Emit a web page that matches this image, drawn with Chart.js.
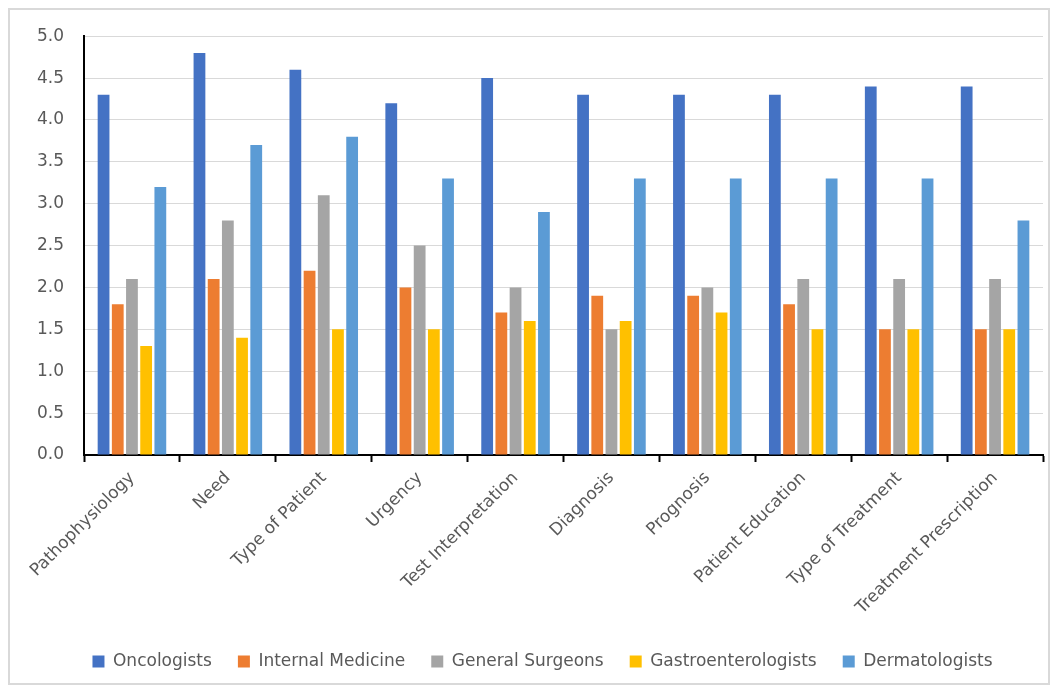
<!DOCTYPE html>
<html lang="en">
<head>
    <meta charset="UTF-8">
    <title>Specialty ratings</title>
    <script src="https://cdn.jsdelivr.net/npm/chart.js"></script>
    <style>
        body {
            margin: 0;
            padding: 0;
            background-color: #fff;
        }

        #frame {
            position: absolute;
            left: 8px;
            top: 8px;
            width: 1038px;
            height: 673px;
            border: 2px solid #d9d9d9;
        }

        #chart-container {
            position: absolute;
            left: 0;
            top: -4px;
            width: 1038px;
            height: 677px;
        }
    </style>
</head>
<body>
    <div id="frame">
        <div id="chart-container">
            <canvas id="ratingChart"></canvas>
        </div>
    </div>

    <script>
        const categories = ['Pathophysiology', 'Need', 'Type of Patient', 'Urgency', 'Test Interpretation',
            'Diagnosis', 'Prognosis', 'Patient Education', 'Type of Treatment', 'Treatment Prescription'];

        const oncologists = [4.3, 4.8, 4.6, 4.2, 4.5, 4.3, 4.3, 4.3, 4.4, 4.4];
        const internalMedicine = [1.8, 2.1, 2.2, 2.0, 1.7, 1.9, 1.9, 1.8, 1.5, 1.5];
        const generalSurgeons = [2.1, 2.8, 3.1, 2.5, 2.0, 1.5, 2.0, 2.1, 2.1, 2.1];
        const gastroenterologists = [1.3, 1.4, 1.5, 1.5, 1.6, 1.6, 1.7, 1.5, 1.5, 1.5];
        const dermatologists = [3.2, 3.7, 3.8, 3.3, 2.9, 3.3, 3.3, 3.3, 3.3, 2.8];

        const font = 'DejaVu Sans';
        const textColor = '#595959';

        function series(label, data, color) {
            return {
                label: label,
                data: data,
                backgroundColor: color,
                borderWidth: 0,
                categoryPercentage: 0.74,
                barPercentage: 0.83
            };
        }

        // legend sits a bit right of centre in the original
        const legendShift = {
            id: 'legendShift',
            afterLayout(chart) {
                chart.legend.left += 16;
                chart.legend.right += 16;
            }
        };

        const ctx = document.getElementById('ratingChart').getContext('2d');
        new Chart(ctx, {
            type: 'bar',
            data: {
                labels: categories,
                datasets: [
                    series('Oncologists', oncologists, '#4472c4'),
                    series('Internal Medicine', internalMedicine, '#ed7d31'),
                    series('General Surgeons', generalSurgeons, '#a5a5a5'),
                    series('Gastroenterologists', gastroenterologists, '#ffc000'),
                    series('Dermatologists', dermatologists, '#5b9bd5')
                ]
            },
            plugins: [legendShift],
            options: {
                responsive: true,
                maintainAspectRatio: false,
                animation: false,
                layout: {
                    autoPadding: false,
                    padding: { left: 0, right: 5, top: 12, bottom: 3 }
                },
                scales: {
                    y: {
                        min: 0,
                        max: 5,
                        afterFit: scale => { scale.width = 74; },
                        ticks: {
                            stepSize: 0.5,
                            color: textColor,
                            font: { family: font, size: 17 },
                            padding: 20,
                            callback: v => v.toFixed(1)
                        },
                        grid: {
                            color: '#d9d9d9',
                            lineWidth: 1,
                            drawTicks: false
                        },
                        border: { color: '#000', width: 2 }
                    },
                    x: {
                        afterFit: scale => { scale.height = 172; },
                        ticks: {
                            color: textColor,
                            font: { family: font, size: 17 },
                            minRotation: 45,
                            maxRotation: 45,
                            padding: 6,
                            autoSkip: false
                        },
                        grid: {
                            drawOnChartArea: false,
                            drawTicks: true,
                            tickLength: 7,
                            tickColor: '#000',
                            tickWidth: 2
                        },
                        border: { color: '#000', width: 2 }
                    }
                },
                plugins: {
                    legend: {
                        display: true,
                        position: 'bottom',
                        labels: {
                            color: textColor,
                            font: { family: font, size: 17 },
                            boxWidth: 12,
                            boxHeight: 12,
                            padding: 26
                        }
                    },
                    tooltip: { enabled: false }
                }
            }
        });
    </script>
</body>
</html>
